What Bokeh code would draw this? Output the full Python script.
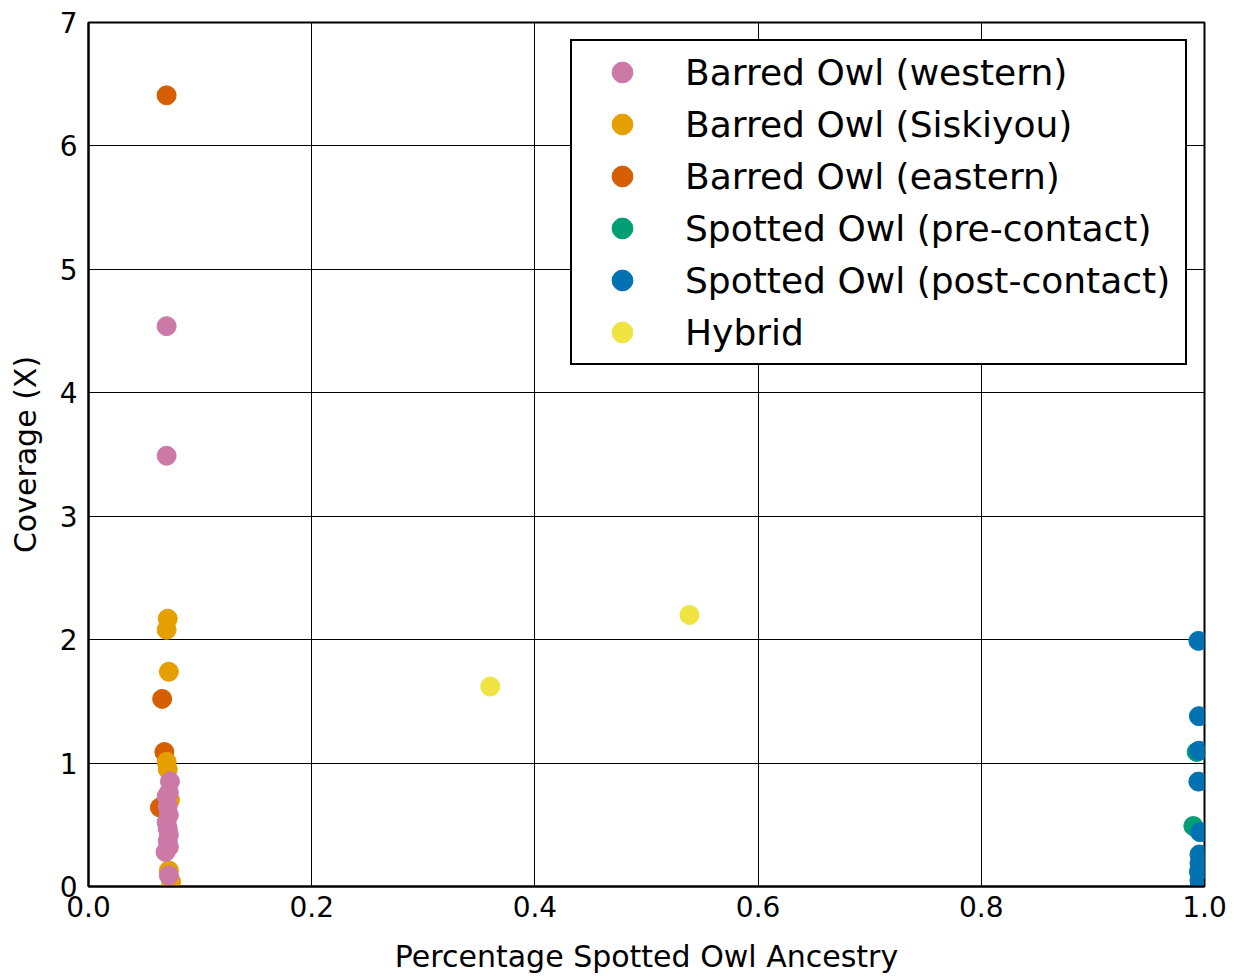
from bokeh.plotting import figure
from bokeh.models import (ColumnDataSource, Legend, LegendItem, FixedTicker,
                          PrintfTickFormatter, Range1d)
from bokeh.embed import file_html
from bokeh.resources import INLINE

FONT = "DejaVu Sans"

# Coverage (X) against fraction of Spotted Owl ancestry, per sample group
western_x = [0.070, 0.070, 0.073, 0.072, 0.070, 0.071, 0.072, 0.070, 0.071, 0.072, 0.071, 0.072, 0.069, 0.072]
western_y = [4.54, 3.49, 0.85, 0.76, 0.73, 0.65, 0.58, 0.52, 0.47, 0.42, 0.37, 0.32, 0.28, 0.09]

siskiyou_x = [0.071, 0.070, 0.072, 0.070, 0.071, 0.073, 0.072, 0.074]
siskiyou_y = [2.17, 2.08, 1.74, 1.01, 0.95, 0.70, 0.13, 0.04]

eastern_x = [0.070, 0.066, 0.068, 0.064]
eastern_y = [6.41, 1.52, 1.09, 0.64]

pre_x = [0.990, 0.993]
pre_y = [0.49, 1.09]

post_x = [0.9945, 0.9950, 0.9950, 0.9945, 0.9960, 0.9955, 0.9955, 0.9950, 0.9955, 0.9960]
post_y = [1.99, 1.38, 1.10, 0.85, 0.44, 0.26, 0.19, 0.12, 0.05, 0.01]

hybrid_x = [0.360, 0.5385]
hybrid_y = [1.62, 2.20]

x_ticks = [0.0, 0.2, 0.4, 0.6, 0.8, 1.0]
y_ticks = [0, 1, 2, 3, 4, 5, 6, 7]

groups = {
    "western": ("Barred Owl (western)", "#CC79A7", western_x, western_y),
    "siskiyou": ("Barred Owl (Siskiyou)", "#E69F00", siskiyou_x, siskiyou_y),
    "eastern": ("Barred Owl (eastern)", "#D55E00", eastern_x, eastern_y),
    "pre": ("Spotted Owl (pre-contact)", "#009E73", pre_x, pre_y),
    "post": ("Spotted Owl (post-contact)", "#0072B2", post_x, post_y),
    "hybrid": ("Hybrid", "#F0E442", hybrid_x, hybrid_y),
}

p = figure(width=1237, height=976, output_backend="svg", toolbar_location=None,
           x_range=Range1d(0, 1), y_range=Range1d(0, 7),
           min_border_left=88, min_border_right=33, min_border_top=22,
           min_border_bottom=90)
p.background_fill_color = "white"
p.border_fill_color = "white"
p.outline_line_color = "black"
p.outline_line_width = 2
p.outline_line_alpha = 1.0

# grid
for g in (p.xgrid, p.ygrid):
    g.grid_line_color = "black"
    g.grid_line_width = 1
    g.grid_line_alpha = 1.0
p.xgrid.ticker = FixedTicker(ticks=x_ticks)
p.ygrid.ticker = FixedTicker(ticks=y_ticks)

# axes
p.xaxis.ticker = FixedTicker(ticks=x_ticks)
p.yaxis.ticker = FixedTicker(ticks=y_ticks)
p.xaxis.formatter = PrintfTickFormatter(format="%.1f")
p.yaxis.formatter = PrintfTickFormatter(format="%d")
p.xaxis.axis_label = "Percentage Spotted Owl Ancestry"
p.yaxis.axis_label = "Coverage (X)"
for ax in (p.xaxis[0], p.yaxis[0]):
    ax.axis_line_color = "black"
    ax.axis_line_width = 2
    ax.major_tick_in = 8
    ax.major_tick_out = 0
    ax.minor_tick_line_color = None
    ax.major_tick_line_color = "black"
    ax.major_label_text_font = FONT
    ax.major_label_text_font_size = "28px"
    ax.major_label_text_color = "black"
    ax.axis_label_text_font = FONT
    ax.axis_label_text_font_size = "30px"
    ax.axis_label_text_font_style = "normal"
    ax.axis_label_text_color = "black"
p.xaxis.major_label_standoff = 9
p.xaxis.axis_label_standoff = 19
p.yaxis.major_label_standoff = 11
p.yaxis.axis_label_standoff = 14

renderers = {}
for key in ["eastern", "siskiyou", "western", "pre", "post", "hybrid"]:
    label, color, xs, ys = groups[key]
    src = ColumnDataSource(dict(x=xs, y=ys))
    renderers[key] = p.scatter("x", "y", source=src, size=19, marker="circle",
                               fill_color=color, line_color=color)

items = [LegendItem(label=groups[k][0], renderers=[renderers[k]])
         for k in ["western", "siskiyou", "eastern", "pre", "post", "hybrid"]]
legend = Legend(items=items, location=(482, 521))
legend.label_text_font = FONT
legend.label_text_font_size = "36px"
legend.label_text_color = "black"
legend.label_height = 52
legend.label_width = 495
legend.glyph_height = 52
legend.glyph_width = 90
legend.label_standoff = 18
legend.spacing = 0
legend.padding = 5
legend.margin = 0
legend.border_line_color = "black"
legend.border_line_width = 2
legend.border_line_alpha = 1.0
legend.background_fill_color = "white"
legend.background_fill_alpha = 1.0
p.add_layout(legend, "center")

open("out.html", "w").write(file_html(p, INLINE))
